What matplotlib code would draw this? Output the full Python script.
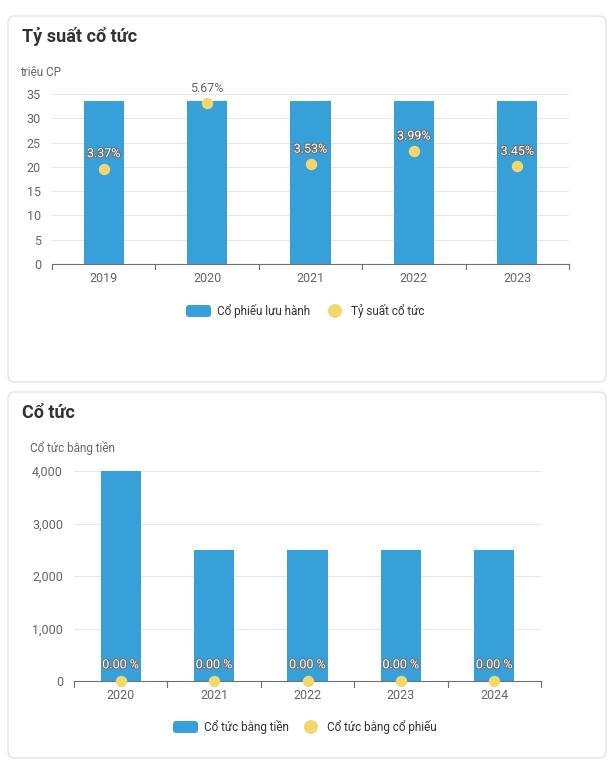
import matplotlib.pyplot as plt
import matplotlib.patheffects as pe
from matplotlib.patches import FancyBboxPatch, Circle

plt.rcParams['font.family'] = ['Roboto', 'DejaVu Sans']

# --- data ---
years_top = ['2019', '2020', '2021', '2022', '2023']
shares_out = [33.5, 33.5, 33.5, 33.5, 33.5]          # triệu CP
div_yield = [3.37, 5.67, 3.53, 3.99, 3.45]            # %

years_bot = ['2020', '2021', '2022', '2023', '2024']
cash_div = [4000, 2500, 2500, 2500, 2500]
stock_div = [0.0, 0.0, 0.0, 0.0, 0.0]                 # %

BLUE = '#38a0d9'
YELLOW = '#f2d76f'
GRID = '#e4e7ec'
TXT = '#666666'

W, H = 614, 764
fig = plt.figure(figsize=(W / 100, H / 100), dpi=100)

def px_axes(x0, y0, x1, y1):
    # pixel box (top-left origin) -> figure axes
    return fig.add_axes([x0 / W, 1 - y1 / H, (x1 - x0) / W, (y1 - y0) / H])

# background overlay in pixel coords
bg = fig.add_axes([0, 0, 1, 1], zorder=-1)
bg.set_xlim(0, W)
bg.set_ylim(H, 0)
bg.axis('off')
for y0, y1 in [(16, 382), (392, 758)]:
    bg.add_patch(FancyBboxPatch((8, y0), 598, y1 - y0,
                                boxstyle='round,pad=0,rounding_size=7',
                                fc='white', ec='#e3e3e3', lw=1))

bg.text(22, 37, 'Tỷ suất cổ tức', fontsize=13, fontweight='bold', color='#333333', va='center')
bg.text(20, 72, 'triệu CP', fontsize=8.5, color=TXT, va='center')
bg.text(22, 413, 'Cổ tức', fontsize=13, fontweight='bold', color='#333333', va='center')
bg.text(30, 448, 'Cổ tức bằng tiền', fontsize=8.5, color=TXT, va='center')

def legend(xr, xc, label1, label2, y):
    bg.add_patch(FancyBboxPatch((xr, y - 6), 25, 12, boxstyle='round,pad=0,rounding_size=3',
                                fc=BLUE, ec='none'))
    bg.text(xr + 31, y, label1, fontsize=8.5, color='#333333', va='center')
    bg.add_patch(Circle((xc, y), 7, fc=YELLOW, ec='none'))
    bg.text(xc + 16, y, label2, fontsize=8.5, color='#333333', va='center')

legend(186, 335, 'Cổ phiếu lưu hành', 'Tỷ suất cổ tức', 311)
legend(173, 311, 'Cổ tức bằng tiền', 'Cổ tức bằng cổ phiếu', 727)

def style(ax, ymax, step, fmt):
    ax.set_ylim(0, ymax)
    ax.set_yticks(range(0, ymax + 1, step))
    ax.set_yticklabels([fmt(v) for v in range(0, ymax + 1, step)])
    ax.grid(axis='y', color=GRID, lw=0.8)
    ax.set_axisbelow(True)
    for s in ['top', 'right', 'left']:
        ax.spines[s].set_visible(False)
    ax.spines['bottom'].set_color('#6e7079')
    ax.tick_params(axis='y', length=0, labelsize=9, labelcolor=TXT, pad=8)
    ax.tick_params(axis='x', length=0, labelsize=9, labelcolor=TXT, pad=6)

def boundary_ticks(ax, n):
    for i in range(n + 1):
        ax.plot([i - 0.5, i - 0.5], [0, -0.03], transform=ax.get_xaxis_transform(),
                color='#6e7079', lw=0.8, clip_on=False)

def label(ax, x, y, s, off):
    ax.annotate(s, (x, y), xytext=(0, off), textcoords='offset points', ha='center',
                va='bottom', fontsize=9, color='white',
                path_effects=[pe.withStroke(linewidth=1.5, foreground='#707070')])

# --- top chart ---
ax1 = px_axes(52, 94, 569, 264)
xs = range(len(years_top))
ax1.bar(xs, shares_out, width=0.39, color=BLUE, zorder=2)
ax1.set_xlim(-0.5, len(years_top) - 0.5)
ax1.set_xticks(list(xs))
ax1.set_xticklabels(years_top)
style(ax1, 35, 5, lambda v: f'{v}')
boundary_ticks(ax1, len(years_top))

ax1b = ax1.twinx()
ax1b.set_ylim(0, 6)
ax1b.axis('off')
ax1b.scatter(xs, div_yield, s=52, color=YELLOW, zorder=3, clip_on=False)
for x, v in zip(xs, div_yield):
    if v > 5:
        ax1b.annotate(f'{v:.2f}%', (x, v), xytext=(0, 6), textcoords='offset points',
                      ha='center', va='bottom', fontsize=9, color=TXT)
    else:
        label(ax1b, x, v, f'{v:.2f}%', 6)

# --- bottom chart ---
ax2 = px_axes(74, 471, 541, 681)
xs2 = range(len(years_bot))
ax2.bar(xs2, cash_div, width=0.43, color=BLUE, zorder=2)
ax2.set_xlim(-0.5, len(years_bot) - 0.5)
ax2.set_xticks(list(xs2))
ax2.set_xticklabels(years_bot)
style(ax2, 4000, 1000, lambda v: f'{v:,}')
boundary_ticks(ax2, len(years_bot))

ax2b = ax2.twinx()
ax2b.set_ylim(0, 1)
ax2b.axis('off')
ax2b.scatter(xs2, stock_div, s=52, color=YELLOW, zorder=3, clip_on=False)
for x, v in zip(xs2, stock_div):
    label(ax2b, x, v, f'{v:.2f} %', 7)

fig.savefig('out.png', dpi=100)
